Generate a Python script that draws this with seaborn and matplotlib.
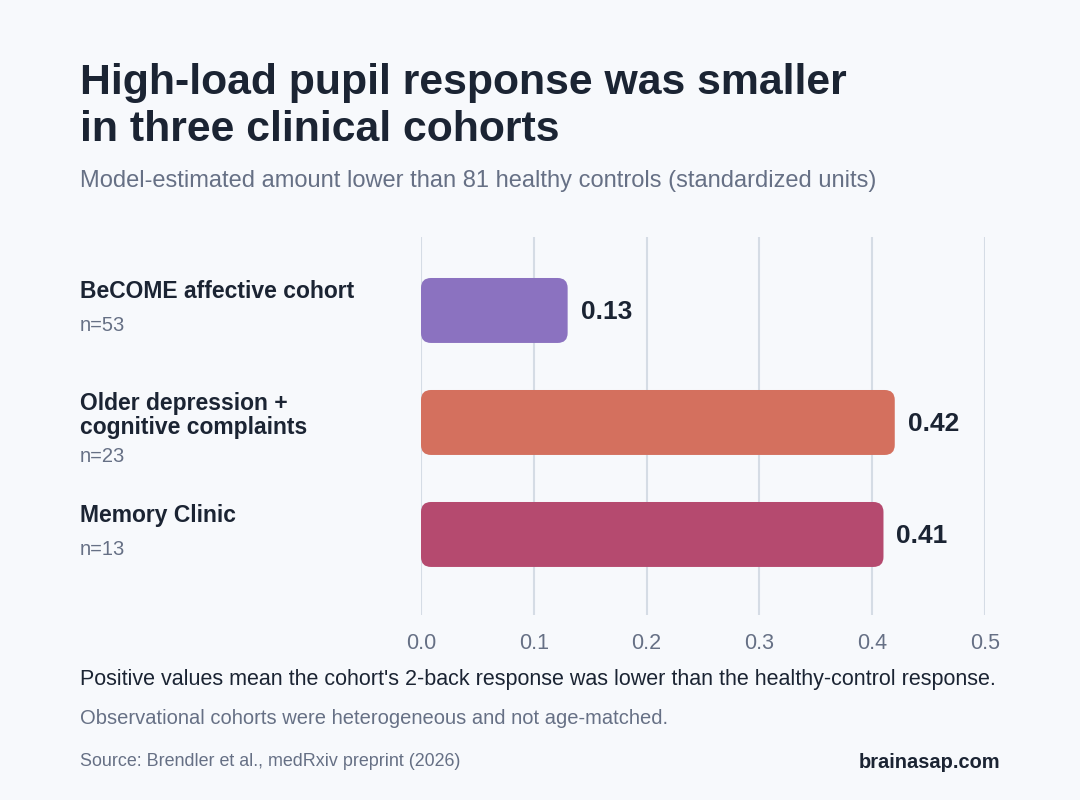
import pandas as pd
import seaborn as sns
import matplotlib.pyplot as plt
from matplotlib.patches import FancyBboxPatch
from matplotlib.transforms import blended_transform_factory

# data
cohorts      = ["BeCOME affective cohort", "Older depression +\ncognitive complaints", "Memory Clinic"]
sample_sizes = [53, 23, 13]
values       = [0.13, 0.42, 0.41]
bar_colors   = ["#8B72C0", "#D4705E", "#B54A6F"]
x_ticks      = [0.0, 0.1, 0.2, 0.3, 0.4, 0.5]

BG    = "#F7F9FC"
DARK  = "#1B2433"
GREY  = "#667085"
GRID  = "#D5DCE5"

df = pd.DataFrame({"cohort": cohorts, "value": values, "n": sample_sizes})

sns.set_theme(style="white")
plt.rcParams['font.family'] = ['Liberation Sans', 'DejaVu Sans']

fig = plt.figure(figsize=(10.8, 8), dpi=100, facecolor=BG)
ax = fig.add_axes([421/1080, 1-615/800, (985-421)/1080, (615-237)/800])
ax.set_facecolor(BG)

sns.barplot(data=df, y="cohort", x="value", hue="cohort", palette=bar_colors,
            orient="h", width=0.58, saturation=1, legend=False, ax=ax, zorder=3)

ax.set_xlim(0, 0.5)
ax.set_ylim(2.719, -0.656)

# swap plain bars for rounded ones
px_x = 0.5 / (985 - 421)
px_y = (2.719 + 0.656) / (615 - 237)
for p in list(ax.patches):
    x0, y0, w, h = p.get_x(), p.get_y(), p.get_width(), p.get_height()
    fb = FancyBboxPatch((x0, y0), w, h,
                        boxstyle=f"round,pad=0,rounding_size={10*px_x}",
                        mutation_aspect=px_y/px_x,
                        facecolor=p.get_facecolor(), edgecolor="none", zorder=3)
    p.remove()
    ax.add_patch(fb)

ax.set_xticks(x_ticks)
ax.set_xticklabels([f"{t:.1f}" for t in x_ticks], fontsize=15.5, color=GREY)
ax.tick_params(axis="x", length=0, pad=13)
ax.set_yticks([])
ax.set_xlabel("")
ax.set_ylabel("")
ax.grid(axis="x", color=GRID, linewidth=1.5, zorder=0)
for s in ax.spines.values():
    s.set_visible(False)

# value labels
for i, v in enumerate(values):
    ax.annotate(f"{v:.2f}", xy=(v, i), xytext=(13, -2), textcoords="offset pixels",
                va="center", ha="left", fontsize=19, fontweight="bold", color=DARK)

# cohort labels on the left
tr = blended_transform_factory(fig.transFigure, ax.transData)
for i, (name, n) in enumerate(zip(cohorts, sample_sizes)):
    k = name.count("\n") + 1
    ax.annotate(name, xy=(80/1080, i), xycoords=tr, xytext=(0, 18.5 - 11.5*(k-1)),
                textcoords="offset pixels", va="center", ha="left", fontsize=16.5,
                fontweight="bold", color=DARK, linespacing=1.05, annotation_clip=False)
    ax.annotate(f"n={n}", xy=(80/1080, i), xycoords=tr, xytext=(0, -15.5 - 19*(k-1)),
                textcoords="offset pixels", va="center", ha="left", fontsize=14.5,
                color=GREY, annotation_clip=False)

# titles and notes
fig.text(80/1080, 1-63/800, "High-load pupil response was smaller\nin three clinical cohorts",
         fontsize=30.8, fontweight="bold", color=DARK, va="top", ha="left", linespacing=1.22)
fig.text(80/1080, 1-181/800, "Model-estimated amount lower than 81 healthy controls (standardized units)",
         fontsize=17, color=GREY, va="center", ha="left")
fig.text(80/1080, 1-680/800, "Positive values mean the cohort's 2-back response was lower than the healthy-control response.",
         fontsize=15.5, color=DARK, va="center", ha="left")
fig.text(80/1080, 1-718/800, "Observational cohorts were heterogeneous and not age-matched.",
         fontsize=14.5, color=GREY, va="center", ha="left")
fig.text(80/1080, 1-762/800, "Source: Brendler et al., medRxiv preprint (2026)",
         fontsize=12.9, color=GREY, va="center", ha="left")
fig.text(1000/1080, 1-762/800, "brainasap.com",
         fontsize=14.4, fontweight="bold", color=DARK, va="center", ha="right")

fig.savefig("out.png", dpi=100, facecolor=BG)
